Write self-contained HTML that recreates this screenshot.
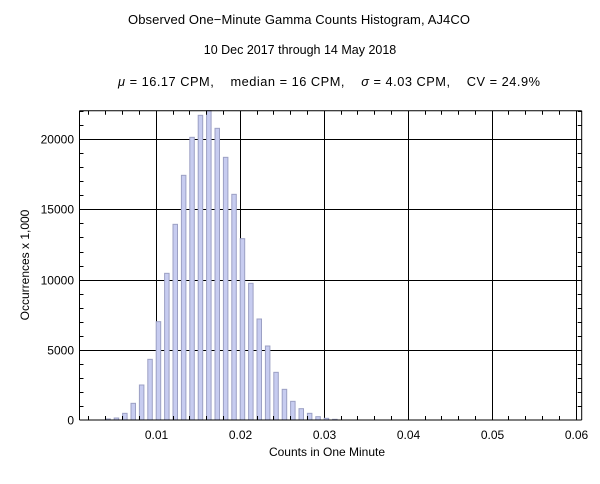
<!DOCTYPE html>
<html><head><style>body{margin:0;background:#fff}</style></head><body>
<svg width="600" height="479" xmlns="http://www.w3.org/2000/svg" font-family="Liberation Sans, sans-serif" font-size="12">
<rect width="600" height="479" fill="#fff"/>
<text x="299" y="24" text-anchor="middle" font-size="13" textLength="342">Observed One−Minute Gamma Counts Histogram, AJ4CO</text>
<text x="300" y="54" text-anchor="middle" font-size="12.5">10 Dec 2017 through 14 May 2018</text>
<text x="329" y="86" text-anchor="middle" font-size="12.8" style="white-space:pre" xml:space="preserve" textLength="422" lengthAdjust="spacing"><tspan font-style="italic">μ</tspan> = 16.17 CPM,    median = 16 CPM,    <tspan font-style="italic">σ</tspan> = 4.03 CPM,    CV = 24.9%</text>
<g id="grid" stroke="#000" stroke-width="1" fill="none"></g>
<g id="bars" fill="#c7ccf0" stroke="#9ca0c4" stroke-width="1"></g>
<g id="frame" stroke="#000" stroke-width="1" fill="none"></g>
<g id="lbl"></g>
<text x="327" y="456" text-anchor="middle">Counts in One Minute</text>
<text transform="translate(29,265) rotate(-90)" text-anchor="middle">Occurrences x 1,000</text>
<script>
const ns="http://www.w3.org/2000/svg";
const X=v=>155.7+(v-0.01)*8400, Y=c=>420-c*70.2/5000;
const L=79.5,R=581.7,T=110.7,B=420;
const bars=[[4,1077],[5,1074],[6,1060],[7,1030],[8,975],[9,898],[10,785],[11,640],[12,493],[13,346],[14,232],[15,166],[16,152],[17,205],[18,292],[19,403],[20,536],[21,670],[22,777],[23,858],[24,937],[25,988],[26,1024],[27,1046],[28,1060],[29,1070],[30,1075],[31,1078]];
const g=document.getElementById('bars');
bars.forEach(([k,zy])=>{const y=60+zy/3;const r=document.createElementNS(ns,'rect');r.setAttribute('x',X(k/1000)+0.5);r.setAttribute('y',y);r.setAttribute('width',4.5);r.setAttribute('height',B-y);g.appendChild(r);});
const gr=document.getElementById('grid'), fr=document.getElementById('frame');
function ln(a,b,c,d,p){const l=document.createElementNS(ns,'line');l.setAttribute('x1',a);l.setAttribute('y1',b);l.setAttribute('x2',c);l.setAttribute('y2',d);(p||gr).appendChild(l);}
const lb=document.getElementById('lbl');
function tx(x,y,s,a){const t=document.createElementNS(ns,'text');t.setAttribute('x',x);t.setAttribute('y',y);t.setAttribute('text-anchor',a);t.textContent=s;lb.appendChild(t);}
for(let i=1;i<=6;i++){const x=Math.round(X(i/100))+0.5;ln(x,T,x,B);tx(x,439,'0.0'+i,'middle');}
for(let i=0;i<=4;i++){const y=Math.round(Y(i*5000))+0.5;if(i>0)ln(L,y,R,y);tx(74,y+4,String(i*5000),'end');}
for(let k=2;k<=60;k+=2){if(k%10==0)continue;const x=Math.round(X(k/1000))+0.5;ln(x,B,x,B-4,fr);ln(x,T,x,T+4,fr);}
for(let c=1000;c<=22000;c+=1000){if(c%5000==0)continue;const y=Math.round(Y(c))+0.5;ln(L,y,L+4,y,fr);ln(R,y,R-4,y,fr);}
ln(L,T,R,T,fr);ln(L,B,R,B,fr);ln(L,T,L,B,fr);ln(R,T,R,B,fr);
</script>
</svg>
</body></html>
